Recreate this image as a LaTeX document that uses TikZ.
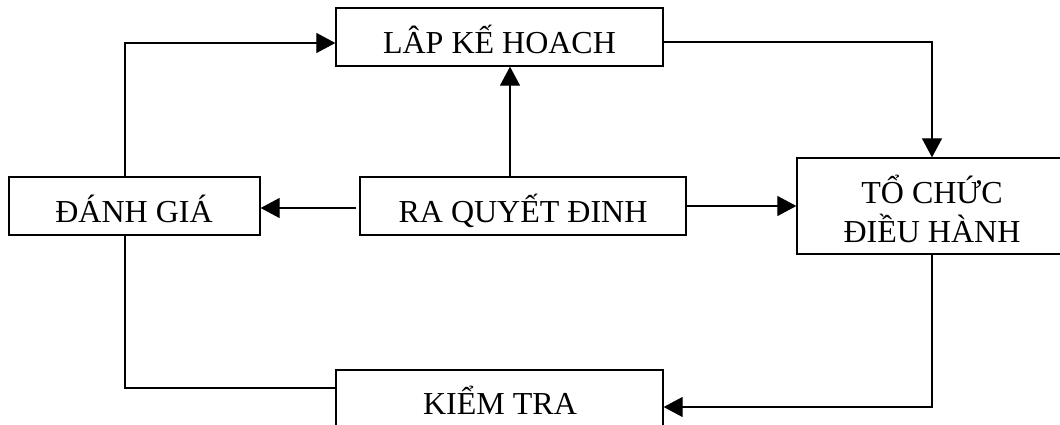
\documentclass[tikz,border=0pt]{standalone}
\usepackage{fontspec}
\setmainfont{Liberation Serif}
\usetikzlibrary{arrows.meta,calc}
\begin{document}
\begin{tikzpicture}[x=1pt,y=-1pt,
  box/.style={draw=black,line width=1.3pt,rectangle,inner sep=0pt},
  lbl/.style={anchor=base,inner sep=0pt,font=\fontsize{32}{39}\selectfont},
  conn/.style={draw=black,line width=1.2pt},
  arr/.style={conn,-{Triangle[length=19pt,width=20pt]}}]
\useasboundingbox (0,0) rectangle (1060,425);
\clip (0,0) rectangle (1060,425);
% boxes
\node[box,minimum width=327pt,minimum height=58pt] (lap) at (499.5,37) {};
\node[box,minimum width=251pt,minimum height=58pt] (dg) at (134.5,206) {};
\node[box,minimum width=326pt,minimum height=58pt] (rqd) at (523,206) {};
\node[box,minimum width=268pt,minimum height=96pt] (tc) at (931,206) {};
\node[box,minimum width=327pt,minimum height=70pt] (kt) at (499.5,405) {};
% labels
\node[lbl] (laptxt) at (499.5,54) {LÂP KẾ HOACH};
\node[lbl] (dgtxt) at (134,222) {ĐÁNH GIÁ};
\node[lbl] (rqdtxt) at (523,222) {RA QUYẾT ĐINH};
\node[lbl] (tctxt1) at (932,203) {TỔ CHỨC};
\node[lbl] (tctxt2) at (932,242) {ĐIỀU HÀNH};
\node[lbl] (kttxt) at (500,414) {KIỂM TRA};
% connectors
\draw[arr] ([xshift=-9.5pt]dg.north) |- ([yshift=-6pt]lap.west);
\draw[arr] ([xshift=-13pt]rqd.north) -- ([xshift=10.5pt]lap.south);
\draw[arr,shorten <=3pt] ([yshift=-2pt]rqd.west) -- ([yshift=-2pt]dg.east);
\draw[arr] (rqd.east) -- (tc.west);
\draw[arr] ([yshift=-5pt]lap.east) -| ([xshift=1pt]tc.north);
\draw[arr] ([xshift=1pt]tc.south) |- ([yshift=-2pt]kt.east);
\draw[conn] ([xshift=-9.5pt]dg.south) |- ([yshift=17pt]kt.west);
\end{tikzpicture}
\end{document}
